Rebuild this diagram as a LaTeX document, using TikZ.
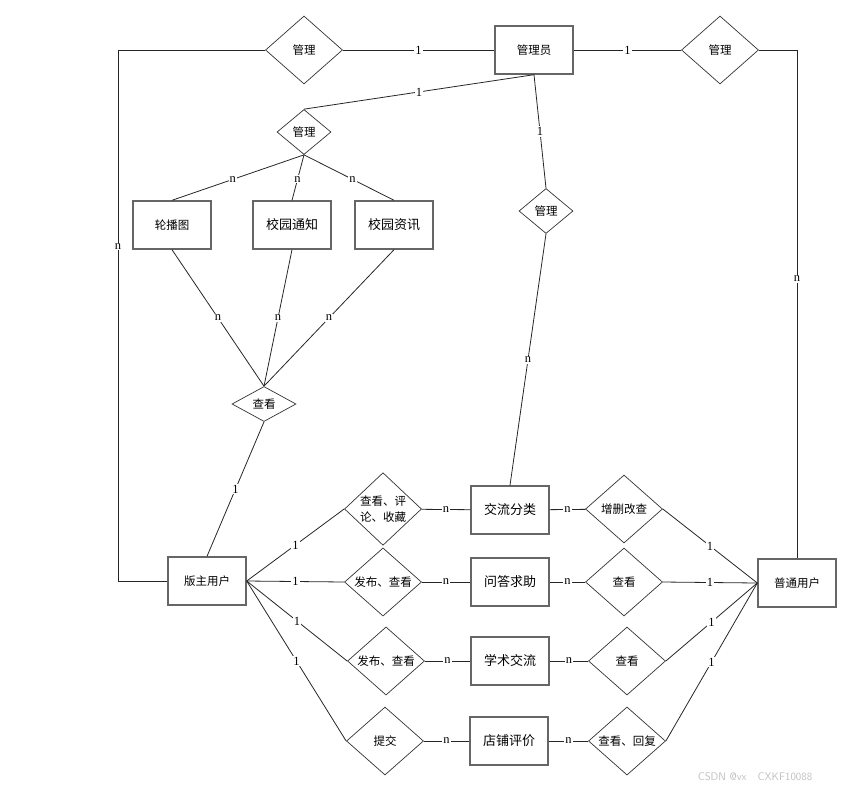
\documentclass[tikz,border=0pt]{standalone}
\usepackage{fontspec}
\setmainfont{Liberation Serif}
\newfontfamily\cjk{Noto Sans CJK SC}
\usetikzlibrary{shapes.geometric}
\tikzset{
  ent/.style={draw=black!60,line width=1.4pt,minimum width=78pt,minimum height=48pt,inner sep=0pt,font=\cjk\fontsize{11.5}{13}\selectfont},
  bent/.style={ent,font=\cjk\fontsize{13}{15}\selectfont},
  rel/.style={diamond,draw=black!80,line width=0.7pt,inner sep=0pt,minimum width=77pt,minimum height=68pt,align=center,font=\cjk\fontsize{11.5}{16}\selectfont},
  srel/.style={rel,minimum width=54pt,minimum height=45pt},
  ln/.style={draw=black!85,line width=0.8pt},
  lbl/.style={fill=white,inner sep=1pt,font=\fontsize{12.5}{12.5}\selectfont},
}
\begin{document}
\begin{tikzpicture}[x=1pt,y=-1pt]
\useasboundingbox (0,0) rectangle (848,793);
% top: admin
\node[ent] (mgr) at (534,50) {管理员};
\node[rel] (rmL) at (304,50) {管理};
\node[rel] (rmR) at (720,50) {管理};
\node[srel] (rmC) at (304,132) {管理};
\node[srel] (rmM) at (546,211) {管理};
% notices
\node[ent] (lbt) at (172,225) {轮播图};
\node[bent] (xytz) at (292,225) {校园通知};
\node[bent] (xyzx) at (394,225) {校园资讯};
\node[rel,minimum width=64pt,minimum height=35pt] (ck) at (264,404) {查看};
% users
\node[ent] (bz) at (207,581) {版主用户};
\node[ent] (pt) at (797,583) {普通用户};
% rows
\node[rel] (d1) at (383,509) {查看、评\\论、收藏};
\node[rel] (d2) at (383,582) {发布、查看};
\node[rel] (d3) at (386,661) {发布、查看};
\node[rel] (d4) at (385,741) {提交};
\node[bent] (jlfl) at (510,510) {交流分类};
\node[bent] (wdqz) at (510,582) {问答求助};
\node[bent] (xsjl) at (510,661) {学术交流};
\node[bent] (dppj) at (509,741) {店铺评价};
\node[rel] (e1) at (624,509) {增删改查};
\node[rel] (e2) at (624,582) {查看};
\node[rel] (e3) at (627,661) {查看};
\node[rel] (e4) at (627,741) {查看、回复};
\coordinate (cl) at (118,50);
\coordinate (cr) at (797,50);
% connectors
\draw[ln] (rmL) -- node[lbl]{1} (mgr);
\draw[ln] (mgr) -- node[lbl]{1} (rmR);
\draw[ln] (rmL.west) -- (cl) -- node[lbl,pos=0.37]{n} (cl |- bz.west) -- (bz.west);
\draw[ln] (rmR.east) -- (cr) -- node[lbl,pos=0.45]{n} (pt.north);
\draw[ln] (mgr.south) -- node[lbl]{1} (rmC.north);
\draw[ln] (mgr.south) -- node[lbl]{1} (rmM.north);
\draw[ln] (rmM.south) -- node[lbl]{n} (jlfl.north);
\draw[ln] (rmC.south) -- node[lbl,pos=0.54]{n} (lbt.north);
\draw[ln] (rmC.south) -- node[lbl,pos=0.54]{n} (xytz.north);
\draw[ln] (rmC.south) -- node[lbl,pos=0.54]{n} (xyzx.north);
\draw[ln] (lbt.south) -- node[lbl]{n} (ck.north);
\draw[ln] (xytz.south) -- node[lbl]{n} (ck.north);
\draw[ln] (xyzx.south) -- node[lbl]{n} (ck.north);
\draw[ln] (ck.south) -- node[lbl]{1} (bz.north);
\draw[ln] (bz.east) -- node[lbl]{1} (d1.west);
\draw[ln] (bz.east) -- node[lbl]{1} (d2.west);
\draw[ln] (bz.east) -- node[lbl]{1} (d3.west);
\draw[ln] (bz.east) -- node[lbl]{1} (d4.west);
\draw[ln] (d1) -- node[lbl]{n} (jlfl);
\draw[ln] (d2) -- node[lbl]{n} (wdqz);
\draw[ln] (d3) -- node[lbl]{n} (xsjl);
\draw[ln] (d4) -- node[lbl]{n} (dppj);
\draw[ln] (jlfl) -- node[lbl]{n} (e1);
\draw[ln] (wdqz) -- node[lbl]{n} (e2);
\draw[ln] (xsjl) -- node[lbl]{n} (e3);
\draw[ln] (dppj) -- node[lbl]{n} (e4);
\draw[ln] (e1.east) -- node[lbl]{1} (pt.west);
\draw[ln] (e2.east) -- node[lbl]{1} (pt.west);
\draw[ln] (e3.east) -- node[lbl]{1} (pt.west);
\draw[ln] (e4.east) -- node[lbl]{1} (pt.west);
\node[text=black!25,font=\fontsize{11}{11}\sffamily] (wm) at (755,777) {CSDN @vx\quad CXKF10088};
\end{tikzpicture}
\end{document}
